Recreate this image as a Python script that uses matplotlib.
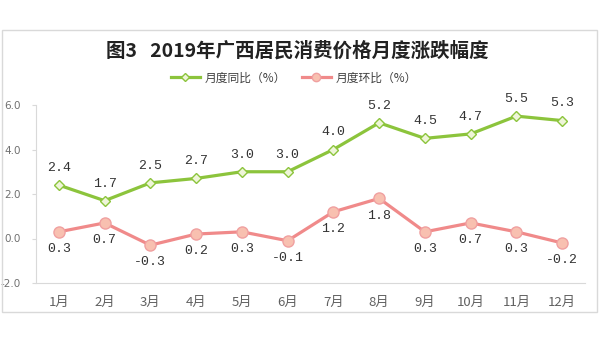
import matplotlib
matplotlib.use("Agg")
import matplotlib.pyplot as plt
from matplotlib.patches import Rectangle

months = ["1月", "2月", "3月", "4月", "5月", "6月", "7月", "8月", "9月", "10月", "11月", "12月"]
yoy = [2.4, 1.7, 2.5, 2.7, 3.0, 3.0, 4.0, 5.2, 4.5, 4.7, 5.5, 5.3]
mom = [0.3, 0.7, -0.3, 0.2, 0.3, -0.1, 1.2, 1.8, 0.3, 0.7, 0.3, -0.2]
yticks = [-2.0, 0.0, 2.0, 4.0, 6.0]
title = "图3   2019年广西居民消费价格月度涨跌幅度"
series_names = ["月度同比（%）", "月度环比（%）"]

cjk = ["Noto Sans CJK SC", "DejaVu Sans"]
plt.rcParams['font.family'] = cjk

fig = plt.figure(figsize=(6.05, 3.39), dpi=100)
fig.patch.set_facecolor("white")
fig.patches.append(Rectangle((2/605, 1-312/339), 595/605, 282/339, transform=fig.transFigure,
                             fill=False, edgecolor="#d9d9d9", linewidth=1.0))

ax = fig.add_axes([36/605, 1-283/339, 549/605, 178/339])
x = list(range(len(months)))
green = "#8cc43c"
red = "#f08a8a"
ax.plot(x, yoy, color=green, lw=2.3, marker="D", ms=5.5, mfc="#eef5d8", mec=green, mew=1.0,
        label=series_names[0], zorder=3)
ax.plot(x, mom, color=red, lw=2.3, marker="o", ms=8, mfc="#f8c0b0", mec="#f0a0a0", mew=1.0,
        label=series_names[1], zorder=3)

num_font = ["Liberation Mono", "DejaVu Sans Mono"]
for i, v in enumerate(yoy):
    ax.annotate(f"{v:.1f}", (i, v), xytext=(0, 8), textcoords="offset points",
                ha="center", va="bottom", fontsize=9.5, color="#333333", family=num_font)
for i, v in enumerate(mom):
    ax.annotate(f"{v:.1f}", (i, v), xytext=(0, -8), textcoords="offset points",
                ha="center", va="top", fontsize=9.5, color="#333333", family=num_font)

ax.set_xlim(-0.5, len(months) - 0.5)
ax.set_ylim(-2.0, 6.0)
ax.set_yticks(yticks)
ax.set_yticklabels([f"{t:.1f}" for t in yticks], fontsize=7.5, color="#707070", family=["DejaVu Sans"])
ax.set_xticks(x)
ax.set_xticklabels(months, fontsize=9.5, color="#606060")
for s in ["top", "right"]:
    ax.spines[s].set_visible(False)
for s in ["left", "bottom"]:
    ax.spines[s].set_color("#d9d9d9")
ax.tick_params(axis="y", length=3, color="#d9d9d9", pad=8)
ax.tick_params(axis="x", length=0, pad=9)

fig.text(297/605, 1-51/339, title, ha="center", va="center", fontsize=14, fontweight="bold", color="#222222")
leg = fig.legend(loc="center", bbox_to_anchor=(294/605, 1-78/339), ncol=2, frameon=False,
                 fontsize=8.5, handlelength=2.5, columnspacing=1.3, handletextpad=0.4,
                 markerscale=0.75)
for t in leg.get_texts():
    t.set_color("#404040")

fig.savefig("out.png", dpi=100, facecolor="white")
